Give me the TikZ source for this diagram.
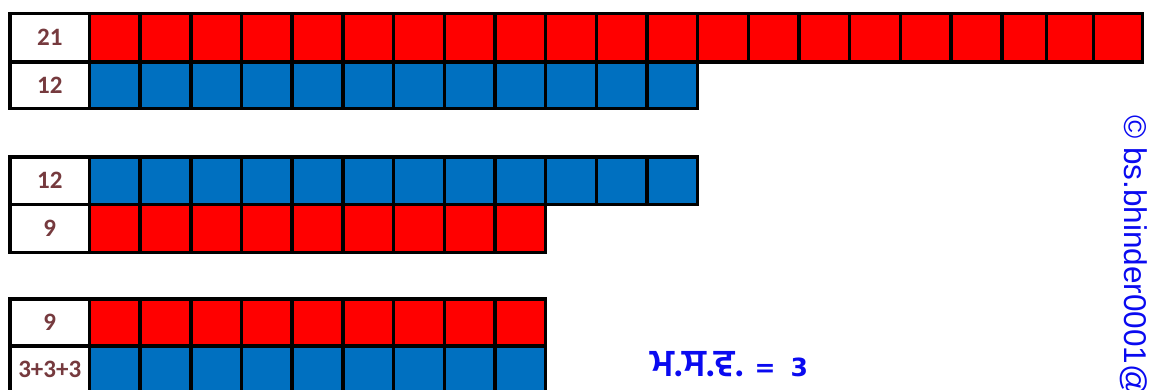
\documentclass[tikz,border=0pt]{standalone}
\usepackage{fontspec}
\setmainfont{Carlito}
\newfontfamily\gurfont[Script=Gurmukhi]{Hind Jalandhar}
\newfontfamily\arialfont{Liberation Sans}
\newfontfamily\dvfont{DejaVu Sans}
\definecolor{cred}{RGB}{255,0,0}
\definecolor{cblue}{RGB}{0,112,192}
\definecolor{lblcol}{RGB}{118,58,62}
\definecolor{txtblue}{RGB}{10,10,240}
\tikzset{
  cellbox/.style={draw=black,line width=3.5pt},
  lbl/.style={font=\bfseries\fontsize{25}{25}\selectfont,text=lblcol,inner sep=0pt},
}
\def\xs{{89.5,140.18,190.86,241.54,292.22,342.9,393.58,444.26,494.94,545.62,596.3,646.98,697.66,748.34,799.02,849.7,900.38,951.06,1001.74,1046.7,1093.3,1142.5}}
% #1 top, #2 bottom, #3 number of cells, #4 colour, #5 label, #6 name
\def\cellrow#1#2#3#4#5#6{%
  \draw[cellbox,fill=white] (10,#1) rectangle (89.5,#2);
  \node[lbl] (#6) at (49.75,{(#1+#2)/2}) {#5};
  \foreach \i in {1,...,#3} {
    \pgfmathsetmacro\xa{\xs[\i-1]}
    \pgfmathsetmacro\xb{\xs[\i]}
    \draw[cellbox,fill=#4] (\xa,#1) rectangle (\xb,#2);
  }
}
\begin{document}
\begin{tikzpicture}[x=1pt,y=-1pt]
\useasboundingbox (0,0) rectangle (1149,389);
\clip (0,0) rectangle (1149,389);
% group 1
\cellrow{13.5}{62}{21}{cred}{21}{a1}
\cellrow{62}{108.5}{12}{cblue}{12}{a2}
% group 2
\cellrow{157}{204.5}{12}{cblue}{12}{b1}
\cellrow{204.5}{252.5}{9}{cred}{9}{b2}
% group 3
\cellrow{299}{346}{9}{cred}{9}{c1}
\cellrow{346}{393}{9}{cblue}{3+3+3}{c2}
% texts
\node[text=txtblue,anchor=base west,inner sep=0pt] (hcf) at (650,376.5)
  {\smash{{\gurfont\bfseries\fontsize{38}{38}\selectfont ਮ.ਸ.ਵ.}\hspace{11pt}{\dvfont\bfseries\fontsize{25}{25}\selectfont =\hspace{15pt}3}}};
\node[font=\arialfont\fontsize{31.5}{31.5}\selectfont,text=txtblue,rotate=-90,anchor=base west,inner sep=0pt] (wm) at (1124,115) {© bs.bhinder0001@};
\end{tikzpicture}
\end{document}
